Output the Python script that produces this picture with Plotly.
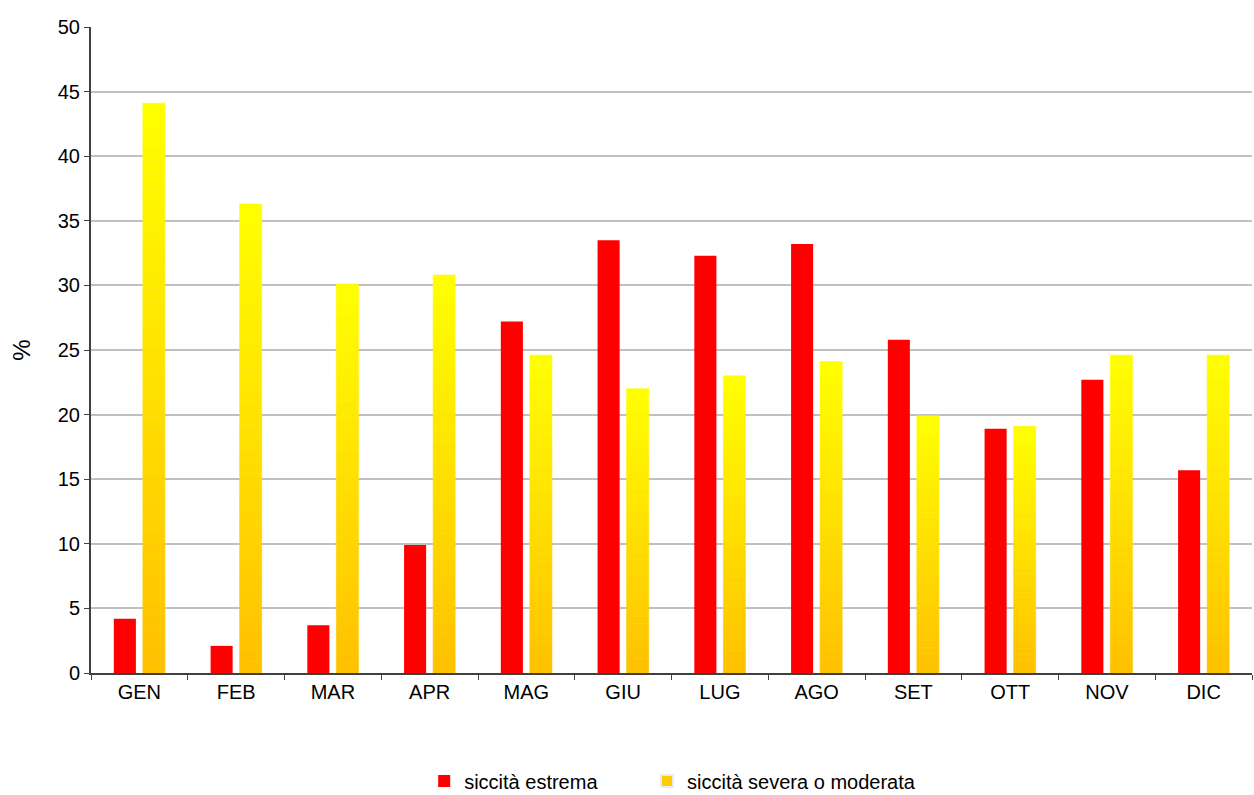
import plotly.graph_objects as go

months = ['GEN', 'FEB', 'MAR', 'APR', 'MAG', 'GIU', 'LUG', 'AGO', 'SET', 'OTT', 'NOV', 'DIC']
estrema = [4.2, 2.1, 3.7, 9.9, 27.2, 33.5, 32.3, 33.2, 25.8, 18.9, 22.7, 15.7]
severa = [44.1, 36.3, 30.1, 30.8, 24.6, 22.0, 23.0, 24.1, 19.9, 19.1, 24.6, 24.6]

FONT = 'Liberation Sans, Arial, sans-serif'
N_STEPS = 40  # slices used to fake the vertical gradient of the yellow bars


def blend(t):
    # orange at the bottom (t=0) -> yellow at the top (t=1)
    g = int(round(192 + (255 - 192) * t))
    return f'rgb(255,{g},0)'


fig = go.Figure()

# trailing non-breaking spaces widen the gap between the two legend entries
fig.add_trace(go.Bar(x=months, y=estrema, name='siccità estrema' + '\u00a0' * 8,
                     marker=dict(color='#FF0000', line=dict(width=0)),
                     offsetgroup='a'))

for k in range(N_STEPS):
    col = blend((k + 0.5) / N_STEPS)
    fig.add_trace(go.Bar(
        x=months,
        y=[v / N_STEPS for v in severa],
        base=[v * k / N_STEPS for v in severa],
        offsetgroup='b',
        marker=dict(color=col, line=dict(width=0.6, color=col)),
        name='siccità severa o moderata',
        showlegend=False,
        hoverinfo='skip',
    ))

# legend entry for the gradient series
fig.add_trace(go.Bar(x=[None], y=[None], name='siccità severa o moderata',
                     marker=dict(color='#FFCC00'), offsetgroup='b'))

fig.update_layout(
    width=1254, height=795,
    paper_bgcolor='white', plot_bgcolor='white',
    barmode='group', bargap=0.40, bargroupgap=0.24,
    margin=dict(l=91, r=2, t=27, b=122, autoexpand=False),
    font=dict(family=FONT, size=20, color='#000000'),
    showlegend=True,
    legend=dict(orientation='h', x=0.501, xanchor='center', y=-0.167, yanchor='middle',
                font=dict(size=20), itemsizing='constant', traceorder='normal'),
)

fig.update_xaxes(type='category', tickson='boundaries', ticks='outside', ticklen=5,
                 tickcolor='#404040', showline=True, linecolor='#404040', linewidth=2,
                 showgrid=False, automargin=False)
fig.update_yaxes(range=[0, 50], dtick=5, ticks='outside', ticklen=5, tickcolor='#404040',
                 showline=True, linecolor='#404040', linewidth=2,
                 showgrid=True, gridcolor='#C0C0C0', gridwidth=1.5, zeroline=False,
                 automargin=False, title=dict(text='%', standoff=20))

# drop the default page margin so the figure sits at the window's corner
fig.write_html('out.html', config={'displayModeBar': False},
               post_script="document.body.style.margin='0';")
